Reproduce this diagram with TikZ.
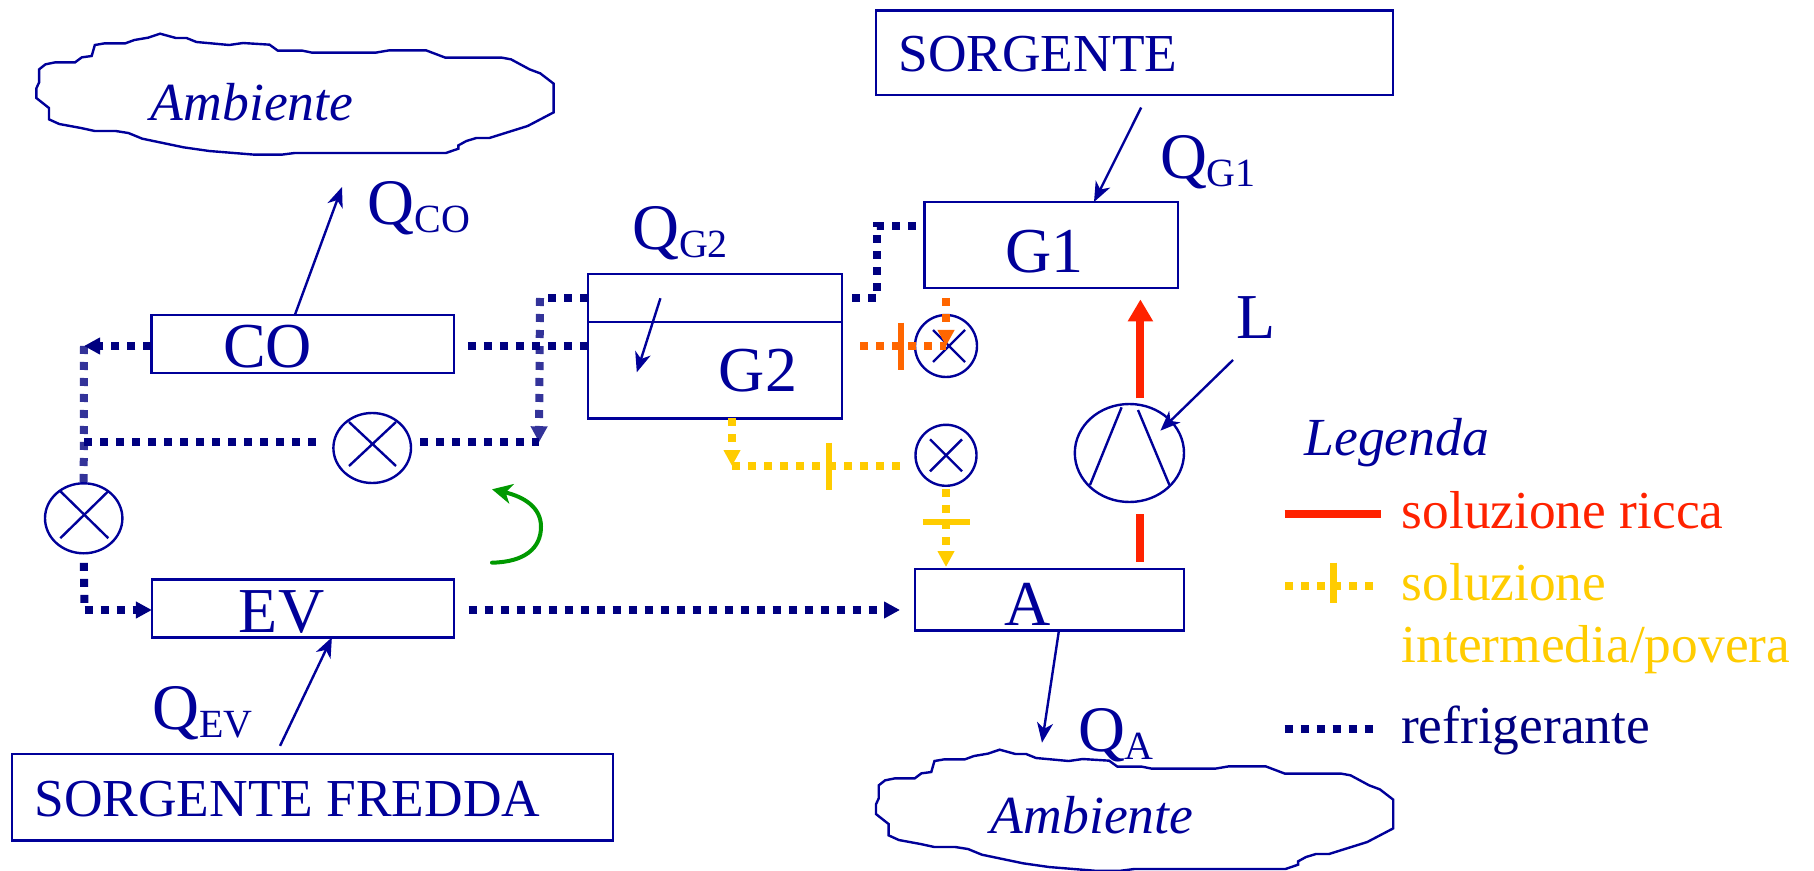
\documentclass[tikz,border=0pt]{standalone}
\usepackage{fontspec}
\setmainfont{Liberation Serif}
\usepackage{xcolor}
\usetikzlibrary{arrows.meta,shapes.geometric}
\definecolor{blu}{HTML}{000099}
\definecolor{blunotte}{HTML}{000080}
\definecolor{blutenue}{HTML}{333399}
\definecolor{rosso}{HTML}{FF2200}
\definecolor{giallo}{HTML}{FFCC00}
\definecolor{arancio}{HTML}{FF6600}
\definecolor{verde}{HTML}{009900}
\newcommand{\calore}[1]{{\fontsize{32.5}{32.5}\selectfont Q}\raisebox{-4pt}{\fontsize{20}{20}\selectfont #1}}
\newcommand{\contorno}{(405,101) -- (445,114) -- (472,114) -- (497,126) -- (580,135) -- (615,129) -- (682,134) -- (703,152) -- (765,152) -- (790,158) -- (950,158) -- (985,151) -- (1078,151) -- (1127,173) -- (1270,173) -- (1293,178) -- (1340,208) -- (1367,220) -- (1401,251) -- (1401,337) -- (1335,378) -- (1238,414) -- (1205,414) -- (1180,423) -- (1160,436) -- (1160,446) -- (1128,459) -- (745,459) -- (712,464) -- (645,464) -- (530,453) -- (465,442) -- (360,416) -- (325,399) -- (293,393) -- (240,393) -- (205,384) -- (150,372) -- (124,358) -- (124,324) -- (92,294) -- (92,265) -- (99,247) -- (99,208) -- (115,193) -- (140,187) -- (190,187) -- (207,172) -- (232,168) -- (240,135) -- (265,130) -- (317,130) -- (340,120) -- (375,113) -- cycle}
\tikzset{
	scatola/.style={draw=blu,line width=1.2pt,inner sep=0pt,outer sep=0pt},
	valvola/.style={ellipse,draw=blu,line width=1.2pt,inner sep=0pt,outer sep=0pt},
	sottile/.style={draw=blu,line width=1.2pt},
	freccia/.style={sottile,-{Stealth[length=10pt,width=8pt,inset=3pt]}},
	grande/.style={text=blu,inner sep=0pt,font=\fontsize{32}{32}\selectfont},
	medio/.style={text=blu,inner sep=0pt,font=\fontsize{26.7}{31}\selectfont},
	corsivo/.style={text=blu,inner sep=0pt,font=\fontsize{26.8}{31}\selectfont\itshape},
	punti/.style={line width=4pt,dash pattern=on 4pt off 4pt},
	refrig/.style={punti,draw=blunotte},
	refrigb/.style={punti,draw=blutenue},
	ricca/.style={draw=rosso,line width=4pt},
	punta/.style={-{Triangle[length=8pt,width=8pt]}},
}
\begin{document}
\begin{tikzpicture}[x=0.5pt,y=-0.5pt]
	\useasboundingbox (0,0) rectangle (1814,871);
	% nuvole
	\begin{scope}[x=0.1976pt,y=-0.1667pt]
		\draw[sottile] \contorno;
	\end{scope}
	\begin{scope}[shift={(839.6,716)},x=0.1976pt,y=-0.1667pt]
		\draw[sottile] \contorno;
	\end{scope}
	\node[corsivo,anchor=base west] (amb1) at (150.5,120.3) {Ambiente};
	\node[corsivo,anchor=base west] (amb2) at (990.5,833.7) {Ambiente};
	% scatole
	\node[scatola,minimum width=258.5pt,minimum height=42.3pt] (sorg) at (1134.5,52.7) {};
	\node[scatola,minimum width=300.5pt,minimum height=43.3pt] (sorgf) at (312.5,797.3) {};
	\node[scatola,minimum width=151.2pt,minimum height=28.9pt] (co) at (302.6,343.9) {};
	\node[scatola,minimum width=151pt,minimum height=29pt] (ev) at (302.9,608.3) {};
	\node[scatola,minimum width=126.8pt,minimum height=42.9pt] (g1) at (1051.1,244.9) {};
	\node[scatola,minimum width=127.2pt,minimum height=72pt] (g2) at (714.9,346.3) {};
	\node[scatola,minimum width=134.5pt,minimum height=30.8pt] (a) at (1049.5,599.8) {};
	\coordinate (div) at (700,322.3);
	\draw[sottile] (g2.west |- div) -- (g2.east |- div);
	% testi
	\node[medio,anchor=base west] (tsorg) at (898,71.7) {SORGENTE};
	\node[medio,anchor=base west] (tsorgf) at (34,816.7) {SORGENTE FREDDA};
	\node[grande,anchor=base] (tco) at (267.5,368) {CO};
	\node[grande,anchor=base] (tev) at (281.6,632.7) {EV};
	\node[grande,anchor=base] (tg1) at (1044.5,272.7) {G1};
	\node[grande,anchor=base] (tg2) at (758,391.7) {G2};
	\node[grande,anchor=base] (ta) at (1028,625) {A};
	\node[grande,anchor=base west] (tl) at (1236,339) {L};
	\node[grande,anchor=base west] (qco) at (367.5,225) {\calore{CO}};
	\node[grande,anchor=base west] (qev) at (152,729) {\calore{EV}};
	\node[grande,anchor=base west] (qg1) at (1159.6,178.5) {\calore{G1}};
	\node[grande,anchor=base west] (qg2) at (631.7,249.7) {\calore{G2}};
	\node[grande,anchor=base west] (qa) at (1077.6,751) {\calore{A}};
	% valvole
	\foreach \nome/\cx/\cy/\rx/\ry/\dx/\dy/\hx/\hy in {vs/946/346/31/31/3/0/16/16,vd/946/455.3/30.5/30.5/0/0/16/16,vc/372.2/448/38.8/35/0.3/-4/23.5/22,vl/83.7/518.3/38.7/35/0.6/-3.6/24/23.5}{
		\node[valvola,minimum width=\rx pt,minimum height=\ry pt] (\nome) at (\cx,\cy) {};
		\draw[sottile] ([shift={(\dx-\hx,\dy-\hy)}]\nome.center) -- ([shift={(\dx+\hx,\dy+\hy)}]\nome.center);
		\draw[sottile] ([shift={(\dx-\hx,\dy+\hy)}]\nome.center) -- ([shift={(\dx+\hx,\dy-\hy)}]\nome.center);
	}
	% compressore
	\node[valvola,minimum width=54.6pt,minimum height=49pt] (comp) at (1129.4,453) {};
	\coordinate (c1a) at (1121.6,407.3);
	\coordinate (c1b) at (1090,485);
	\coordinate (c2a) at (1138,410);
	\coordinate (c2b) at (1169.4,485);
	\draw[sottile] (c1a) -- (c1b);
	\draw[sottile] (c2a) -- (c2b);
	% frecce sottili
	\coordinate (pco) at (342,187);
	\coordinate (pa) at (1042,742.7);
	\coordinate (pl) at (1233,360);
	\coordinate (pc) at (1160.4,430.7);
	\coordinate (pg1) at (660.4,298.3);
	\coordinate (pg2) at (636.8,372.3);
	\draw[freccia] (co.105.7) -- (pco);
	\draw[freccia,shorten <=7pt] (sorg.-73.2) -- (g1.45);
	\draw[freccia,shorten <=4.5pt] (sorgf.130.9) -- (ev.-45.5);
	\draw[freccia] (a.-73.4) -- (pa);
	\draw[freccia] (pl) -- (pc);
	\draw[freccia] (pg1) -- (pg2);
	% refrigerante
	\coordinate (n1) at (84,346);
	\coordinate (n2) at (84,442.3);
	\coordinate (n3) at (539,442.3);
	\coordinate (n4) at (540,298);
	\coordinate (n5) at (84.5,610);
	\coordinate (n6) at (877,298);
	\coordinate (n7) at (877,226);
	\draw[refrigb] (n1) -- (vl.north);
	\draw[refrigb,punta] (n4) -- (n3);
	\draw[refrig,punta] (n1 -| co.west) -- (n1);
	\draw[refrig,shorten <=7pt] (n1 -| co.east) -- (n1 -| g2.west);
	\draw[refrig,shorten >=8.7pt] (n2) -- (n2 -| vc.west);
	\draw[refrig,shorten <=4.7pt] (n2 -| vc.east) -- (n3);
	\draw[refrig,shorten >=4pt] (n4 -| g2.west) -- (n4);
	\draw[refrig,shorten <=4.8pt] (vl.south) -- (n5);
	\draw[refrig,punta] (n5) -- (n5 -| ev.west);
	\draw[refrig,punta,shorten <=7.3pt,shorten >=7.5pt] (n5 -| ev.east) -- (n5 -| a.west);
	\draw[refrig,shorten <=5pt,shorten >=4pt] (n6 -| g2.east) -- (n6) -- (n7) -- (n7 -| g1.west);
	% soluzione intermedia e povera
	\coordinate (n8) at (732,466);
	\draw[punti,draw=arancio,shorten <=9pt] (n1 -| g2.east) -- (vs.center);
	\draw[punti,draw=arancio,punta,shorten <=5pt] (vs.center |- g1.south) -- (vs.center);
	\draw[draw=arancio,line width=3pt] (900.6,322.7) -- (900.6,370);
	\draw[punti,draw=giallo,punta] (n8 |- g2.south) -- (n8);
	\draw[punti,draw=giallo,shorten >=7.2pt] (n8) -- (n8 -| vd.west);
	\draw[draw=giallo,line width=3pt] (828.7,442.7) -- (828.7,490);
	\draw[punti,draw=giallo,punta,shorten <=1.5pt,shorten >=1pt] (vd.south) -- (vd.center |- a.north);
	\draw[draw=giallo,line width=3pt] (922.5,522) -- (969.8,522);
	% soluzione ricca
	\coordinate (rr) at (1140.4,453);
	\draw[ricca,shorten <=3.5pt,shorten >=6pt] (rr |- a.north) -- (rr |- comp.south);
	\draw[ricca,-{Triangle[length=11pt,width=12pt]},shorten <=2.75pt,shorten >=5.8pt] (rr |- comp.north) -- (rr |- g1.south);
	% senso del ciclo
	\coordinate (v1) at (492,562.7);
	\coordinate (v2) at (541,526.7);
	\coordinate (v3) at (492,489.3);
	\draw[draw=verde,line width=2pt,line cap=round,-{Stealth[length=10pt,width=10pt,inset=3pt]}] (v1) .. controls (525,562) and (541,548) .. (v2) .. controls (541,508) and (525,497) .. (v3);
	% legenda
	\node[corsivo,anchor=base west] (leg) at (1304,455) {Legenda};
	\coordinate (l1) at (1284.7,514);
	\coordinate (l2) at (1380.8,514);
	\coordinate (l3) at (1285.4,586);
	\coordinate (l4) at (1373,586);
	\coordinate (l5) at (1284.7,729.3);
	\coordinate (l6) at (1373,729.3);
	\draw[ricca] (l1) -- (l2);
	\draw[punti,draw=giallo] (l3) -- (l4);
	\draw[draw=giallo,line width=3.5pt] (1333.5,562.7) -- (1333.5,602.7);
	\draw[refrig] (l5) -- (l6);
	\node[medio,anchor=base west,text=rosso] (lric) at (1401.3,528) {soluzione ricca};
	\node[medio,anchor=base west,text=giallo,align=left] (lpov) at (1401.3,662.7) {soluzione\\intermedia/povera};
	\node[medio,anchor=base west,text=blunotte] (lref) at (1400.6,743.7) {refrigerante};
\end{tikzpicture}
\end{document}
